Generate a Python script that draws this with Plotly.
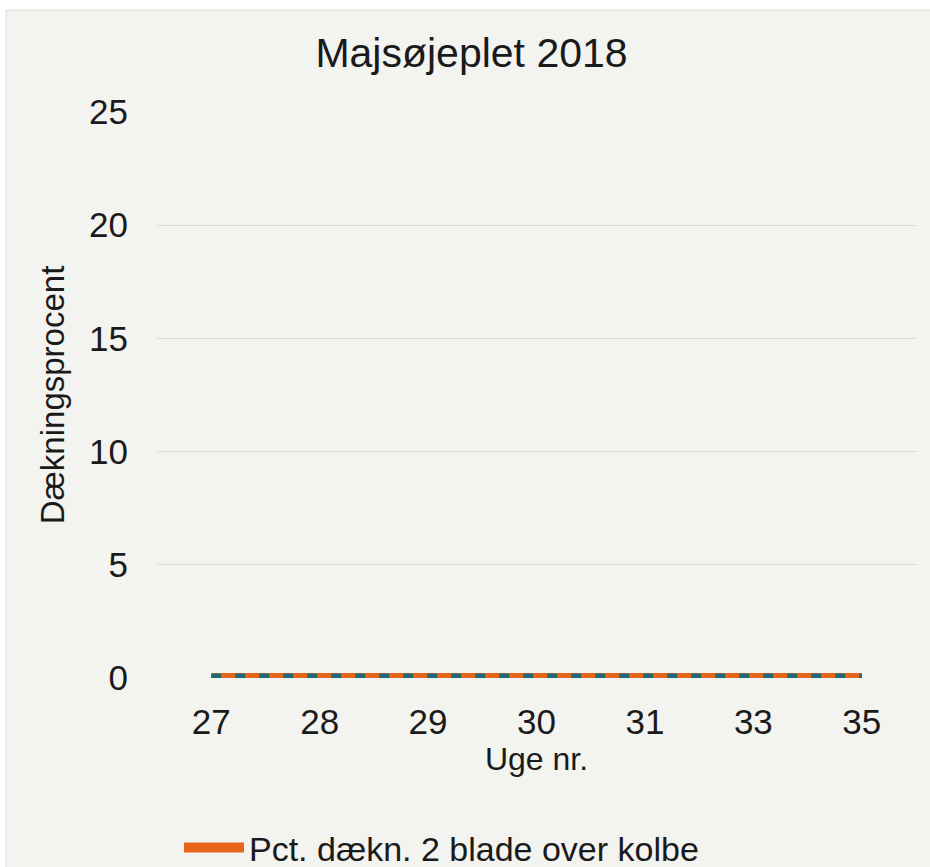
import plotly.graph_objects as go

weeks = ["27", "28", "29", "30", "31", "33", "35"]
pct_2_blade = [0, 0, 0, 0, 0, 0, 0]
pct_other = [0, 0, 0, 0, 0, 0, 0]

_FONT = "Liberation Sans, Arial, sans-serif"
_BG = "#f3f3f0"
_ORANGE = "#e8661a"
_TEAL = "#1d6a72"

W, H = 930, 867
L, R, T, B = 157, 14, 112, 189
pw, ph = W - L - R, H - T - B

fig = go.Figure()
fig.add_trace(go.Scatter(
    x=weeks, y=pct_2_blade, mode="lines", name="Pct. dækn. 2 blade over kolbe",
    line=dict(color=_ORANGE, width=10),
))
fig.add_trace(go.Scatter(
    x=weeks, y=pct_other, mode="lines", name="", showlegend=False,
    line=dict(color=_TEAL, width=9, dash="10px,14px"),
))

# light card behind the chart, leaving a thin white strip top/left
fig.add_shape(
    type="rect", xref="paper", yref="paper", layer="below",
    x0=(6 - L) / pw, x1=(W + 5 - L) / pw,
    y0=(H - B - (H + 10)) / ph, y1=(H - B - 10) / ph,
    fillcolor=_BG, line=dict(color="#dcdcd8", width=1),
)

fig.update_layout(
    width=W, height=H,
    margin=dict(l=L, r=R, t=T, b=B, autoexpand=False),
    paper_bgcolor="white", plot_bgcolor="rgba(0,0,0,0)",
    font=dict(family=_FONT, color="#222222"),
    title=dict(text="Majsøjeplet 2018", x=0.507, xref="container", xanchor="center",
               y=1 - 53 / H, yanchor="middle", font=dict(size=41, color="#1a1a1a")),
    showlegend=True,
    legend=dict(orientation="h", x=(179 - L) / pw, xanchor="left",
                y=(H - B - 848) / ph, yanchor="middle", itemwidth=60,
                font=dict(size=34, color="#1a1a1a"), bgcolor="rgba(0,0,0,0)"),
    xaxis=dict(
        type="category", range=[-0.5, len(weeks) - 0.5],
        showgrid=False, zeroline=False, showline=False,
        tickfont=dict(size=35, color="#1a1a1a"), ticklabelstandoff=20,
        title=dict(text="Uge nr.", font=dict(size=32, color="#1a1a1a"), standoff=4),
    ),
    yaxis=dict(
        range=[0, 25], dtick=5, showgrid=True, gridcolor="#d9d9d6", gridwidth=1,
        zeroline=False, showline=False,
        tickfont=dict(size=35, color="#1a1a1a"), ticklabelstandoff=28,
        title=dict(text="Dækningsprocent", font=dict(size=33, color="#1a1a1a"), standoff=14),
    ),
)

fig.write_html(
    "out.html",
    config={"displayModeBar": False},
    post_script="document.body.style.margin='0';document.body.style.overflow='hidden';",
)
